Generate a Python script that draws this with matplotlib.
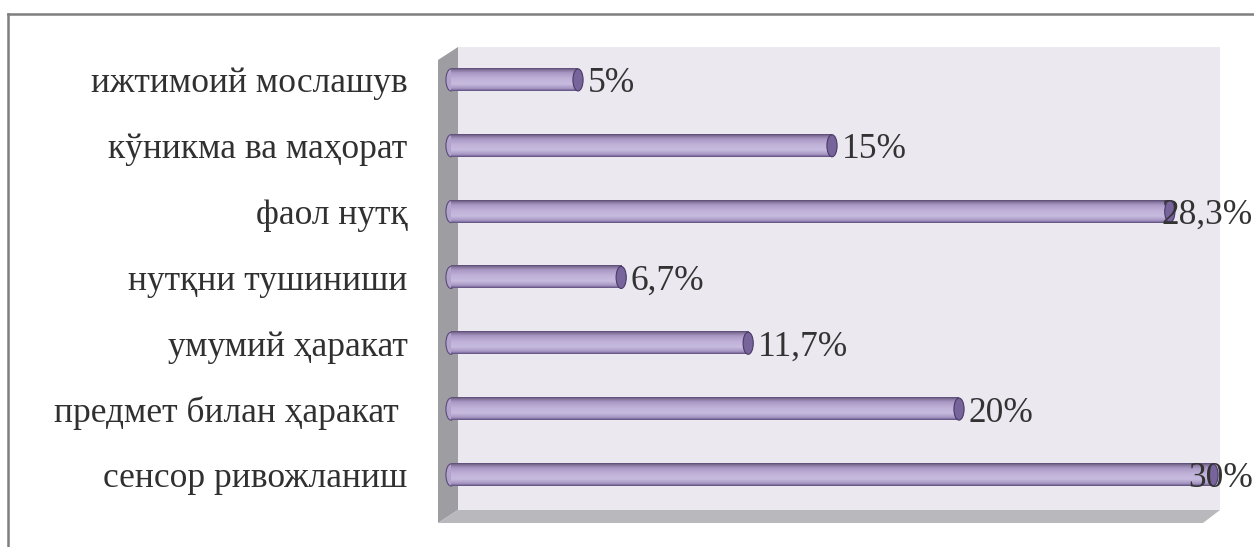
import numpy as np
import matplotlib
matplotlib.use("Agg")
import matplotlib.pyplot as plt
from matplotlib.patches import Ellipse, Polygon, Rectangle
from matplotlib.colors import LinearSegmentedColormap
from matplotlib.transforms import blended_transform_factory

# Categories listed bottom to top, with their shares in percent
categories = [
    "сенсор ривожланиш",
    "предмет билан ҳаракат ",
    "умумий ҳаракат",
    "нутқни тушиниши",
    "фаол нутқ",
    "кўникма ва маҳорат",
    "ижтимоий мослашув",
]
values = [30, 20, 11.7, 6.7, 28.3, 15, 5]
value_labels = ["30%", "20%", "11,7%", "6,7%", "28,3%", "15%", "5%"]

W, H = 1254, 547
fig = plt.figure(figsize=(W / 100, H / 100), dpi=100)
fig.patch.set_facecolor("white")

# plot box in pixels
L, R, T, B = 438, 1220, 47, 523
ax = fig.add_axes([L / W, (H - B) / H, (R - L) / W, (B - T) / H])
ax.set_facecolor("none")
for s in ax.spines.values():
    s.set_visible(False)

def fx(px):
    return (px - L) / (R - L)

def fy(py):
    return (B - py) / (B - T)

# 3D-style walls
ax.add_patch(Rectangle((fx(458), fy(510)), fx(1220) - fx(458), fy(47) - fy(510),
                       transform=ax.transAxes, facecolor="#ebe8f0", edgecolor="none", zorder=0))
ax.add_patch(Polygon([(fx(438), fy(60)), (fx(458), fy(47)), (fx(458), fy(510)), (fx(438), fy(523))],
                     closed=True, transform=ax.transAxes, facecolor="#9e9da2", edgecolor="none", zorder=0))
ax.add_patch(Polygon([(fx(438), fy(523)), (fx(458), fy(510)), (fx(1220), fy(510)), (fx(1203), fy(523))],
                     closed=True, transform=ax.transAxes, facecolor="#b9b8bd", edgecolor="none", zorder=0))

# cylinder shading
cyl = LinearSegmentedColormap.from_list("cyl", [
    (0.0, "#5e4e7e"), (0.1, "#a494c2"), (0.3, "#c7bbdf"), (0.55, "#bfb1d8"),
    (0.8, "#a897c4"), (0.92, "#857499"), (1.0, "#5a4a78")])
grad = cyl(np.linspace(0, 1, 64))[:, None, :3]

h = 0.335
rx = 0.2
y_pos = np.arange(len(categories))
for y, v in zip(y_pos, values):
    ax.add_patch(Ellipse((0, y), 2 * rx, h, facecolor="#b2a4cc", edgecolor="#5a4a78", lw=0.8, zorder=2))
    ax.imshow(grad, extent=(0, v, y + h / 2, y - h / 2), aspect="auto",
              interpolation="bilinear", zorder=3)
    ax.add_patch(Ellipse((v, y), 2 * rx, h, facecolor="#76649a", edgecolor="#4a3a68", lw=0.8, zorder=4))

ax.set_xlim(-13 / 25.4, (R - 451) / 25.4)
ax.set_ylim(-0.73, 6.5)
ax.set_xticks([])
ax.set_yticks(y_pos)
ax.set_yticklabels(categories, fontfamily="Liberation Serif", fontsize=25.5, color="#303030")
ax.tick_params(axis="y", length=0, pad=22)

# value labels, pulled back inside the figure when they would overflow
edge = blended_transform_factory(fig.transFigure, ax.transData)
for y, v, lab in zip(y_pos, values, value_labels):
    if v > 27:
        ax.text(1253 / W, y, lab, transform=edge, ha="right", va="center_baseline",
                fontfamily="Liberation Serif", fontsize=25.5, color="#333333", zorder=5)
    else:
        ax.annotate(lab, xy=(v, y), xytext=(7, 0), textcoords="offset points",
                    ha="left", va="center_baseline", fontfamily="Liberation Serif", fontsize=25.5,
                    color="#333333", zorder=5)

# outer chart frame (top and left edges)
fig.add_artist(plt.Line2D([8 / W, 1.0], [1 - 14 / H, 1 - 14 / H], transform=fig.transFigure,
                          color="#7f7f7f", lw=1.8))
fig.add_artist(plt.Line2D([8 / W, 8 / W], [0, 1 - 14 / H], transform=fig.transFigure,
                          color="#7f7f7f", lw=1.8))

fig.savefig("out.png", dpi=100)
